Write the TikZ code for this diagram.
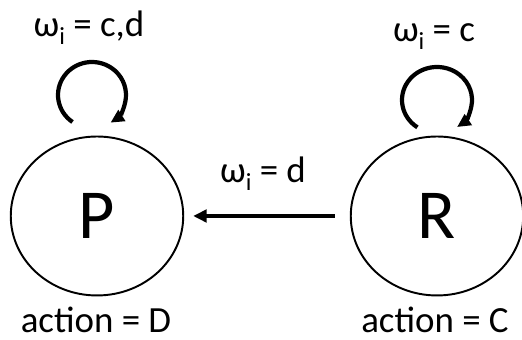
\documentclass[tikz,border=0pt]{standalone}
\usepackage{fontspec}
\setmainfont{Carlito}
\usepackage{tikz}
\usetikzlibrary{positioning,arrows.meta,shapes.geometric}
\newcommand{\omi}{ω\raisebox{-0.45ex}{\fontsize{14}{14}\selectfont i}}

\begin{document}
\begin{tikzpicture}[
  x=0.02cm, y=0.02cm,
  font=\fontsize{21}{25}\selectfont,
  state/.style={draw, ellipse, line width=1.1pt, minimum width=3.45cm, minimum height=3.18cm,
    inner sep=0pt, font=\fontsize{40}{48}\selectfont},
  lbl/.style={anchor=base, inner sep=0pt},
  arr/.style={-{Triangle[length=0.27cm, width=0.25cm]}, line width=2.2pt},
  loopArr/.style={-{Triangle[length=0.27cm, width=0.25cm]}, line width=2.4pt}
]
\useasboundingbox (0,0) rectangle (522,340);
% states
\node[state] (P) at (97,124) {P};
\node[state] (R) at (437,124) {R};
% actions
\node[lbl] (actP) at (96,7) {action = D};
\node[lbl] (actR) at (435,7) {action = C};
% self loops
\coordinate (Pl) at (92,245);
\coordinate (Rl) at (437,240);
\draw[loopArr] (Pl) ++(235:0.68cm and 0.66cm) arc[start angle=235, end angle=-57, x radius=0.68cm, y radius=0.66cm];
\draw[loopArr] (Rl) ++(236:0.7cm and 0.66cm) arc[start angle=236, end angle=-55, x radius=0.7cm, y radius=0.66cm];
\node[lbl] (labP) at (89,303) {\omi{} = c,d};
\node[lbl] (labR) at (434,298) {\omi{} = c};
% transition
\draw[arr, shorten <=0.3cm, shorten >=0.18cm] (R) -- (P);
\node[lbl] (labRP) at (263,157) {\omi{} = d};
\end{tikzpicture}
\end{document}
